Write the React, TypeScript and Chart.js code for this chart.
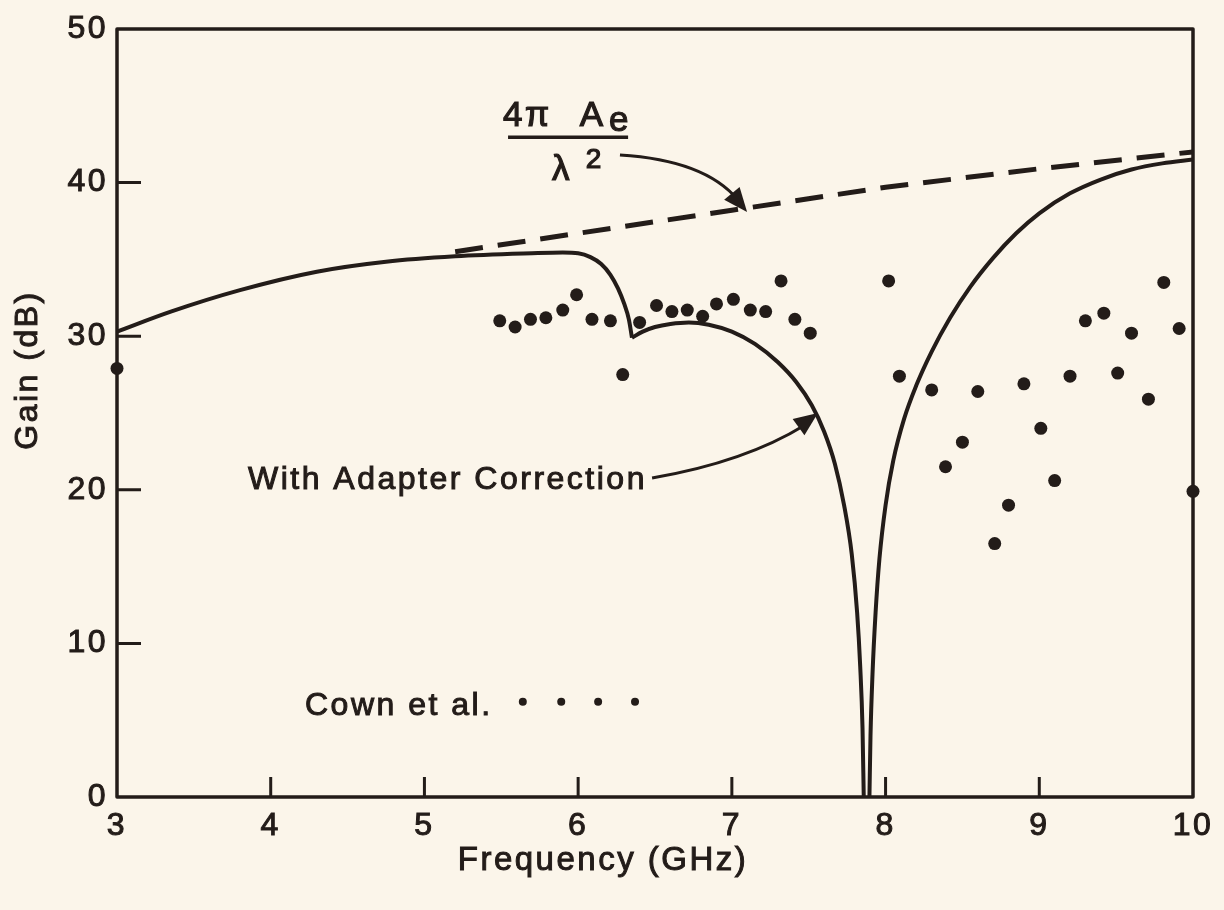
import React, { useEffect, useRef } from 'react';
import { Chart, registerables } from 'chart.js';

Chart.register(...registerables);

const INK = '#231c19';
const PAPER = '#fbf5ea';
const FONT = '"Liberation Sans", Arial, Helvetica, sans-serif';

// Axis ticks
const xTicks = [3, 4, 5, 6, 7, 8, 9, 10];
const yTicks = [0, 10, 20, 30, 40, 50];

// 4*pi*Ae / lambda^2 (dashed)
const apertureX = [5.2, 6.0, 7.0, 8.0, 9.0, 10.0];
const apertureY = [35.5, 36.7, 38.2, 39.7, 40.9, 42.0];

// With adapter correction (solid) - rising part up to cusp
const riseX = [3.0, 3.35, 3.8, 4.3, 4.75, 5.2, 5.7, 5.9, 6.0, 6.08, 6.15, 6.21, 6.26, 6.3, 6.33, 6.35];
const riseY = [30.3, 31.6, 33.0, 34.2, 34.85, 35.2, 35.4, 35.45, 35.4, 35.15, 34.7, 34.0, 33.1, 32.1, 31.1, 29.9];

// hump after the cusp, falling into the null
const humpX = [6.35, 6.42, 6.5, 6.6, 6.72, 6.85, 7.0, 7.15, 7.3, 7.42, 7.52, 7.6, 7.67, 7.73, 7.78, 7.815, 7.835, 7.85, 7.858];
const humpY = [29.9, 30.3, 30.6, 30.8, 30.9, 30.75, 30.3, 29.5, 28.3, 27.0, 25.5, 23.8, 21.7, 19.0, 15.8, 12.0, 8.5, 4.5, 0];

// rising branch after the null
const recoverX = [7.895, 7.902, 7.915, 7.935, 7.96, 8.0, 8.05, 8.12, 8.2, 8.3, 8.42, 8.55, 8.7, 8.85, 9.0, 9.2, 9.4, 9.6, 9.8, 10.0];
const recoverY = [0, 4, 8, 12, 15.5, 19.0, 21.9, 24.6, 26.8, 29.0, 31.2, 33.2, 35.1, 36.7, 38.0, 39.3, 40.2, 40.85, 41.25, 41.5];

// Cown et al. measured points
const cownX = [3.0, 5.49, 5.59, 5.69, 5.79, 5.9, 5.99, 6.09, 6.21, 6.29, 6.4, 6.51, 6.61, 6.71, 6.81, 6.9, 7.01, 7.12, 7.22, 7.32, 7.41, 7.51,
  8.02, 8.09, 8.3, 8.39, 8.5, 8.6, 8.71, 8.8, 8.9, 9.01, 9.1, 9.2, 9.3, 9.42, 9.51, 9.6, 9.71, 9.81, 9.91, 10.0];
const cownY = [27.9, 31.0, 30.6, 31.1, 31.2, 31.7, 32.7, 31.1, 31.0, 27.5, 30.9, 32.0, 31.6, 31.7, 31.3, 32.1, 32.4, 31.7, 31.6, 33.6, 31.1, 30.2,
  33.6, 27.4, 26.5, 21.5, 23.1, 26.4, 16.5, 19.0, 26.9, 24.0, 20.6, 27.4, 31.0, 31.5, 27.6, 30.2, 25.9, 33.5, 30.5, 19.9];

// legend key dots
const keyX = [5.64, 5.89, 6.13, 6.37];
const keyY = [6.2, 6.2, 6.2, 6.2];

const xy = (xs: number[], ys: number[]) => xs.map((x, i) => ({ x, y: ys[i] }));

function arrowHead(ctx: CanvasRenderingContext2D, tx: number, ty: number, fx: number, fy: number, len: number, half: number) {
  const a = Math.atan2(ty - fy, tx - fx);
  const bx = tx - len * Math.cos(a);
  const by = ty - len * Math.sin(a);
  ctx.beginPath();
  ctx.moveTo(tx, ty);
  ctx.lineTo(bx + half * Math.sin(a), by - half * Math.cos(a));
  ctx.lineTo(bx - half * Math.sin(a), by + half * Math.cos(a));
  ctx.closePath();
  ctx.fill();
}

function inkText(ctx: CanvasRenderingContext2D, s: string, x: number, y: number) {
  ctx.fillText(s, x, y);
  ctx.strokeText(s, x, y);
}

const paperPlugin = {
  id: 'paper',
  beforeDraw(chart: any) {
    const { ctx, width, height } = chart;
    ctx.save();
    ctx.fillStyle = PAPER;
    ctx.fillRect(0, 0, width, height);
    ctx.restore();
    ctx.letterSpacing = '2.5px';
  },
  beforeDatasetsDraw(chart: any) {
    const { ctx, chartArea: a, scales } = chart;
    const xs = scales.x;
    const ys = scales.y;
    ctx.save();
    ctx.strokeStyle = INK;
    ctx.lineWidth = 3.5;
    ctx.lineJoin = 'round';
    ctx.strokeRect(a.left, a.top, a.right - a.left, a.bottom - a.top);
    ctx.lineWidth = 3;
    ctx.beginPath();
    xTicks.slice(1, -1).forEach((v) => {
      const p = xs.getPixelForValue(v);
      ctx.moveTo(p, a.bottom);
      ctx.lineTo(p, a.bottom - 20);
    });
    yTicks.slice(1, -1).forEach((v) => {
      const p = ys.getPixelForValue(v);
      ctx.moveTo(a.left, p);
      ctx.lineTo(a.left + 24, p);
    });
    ctx.stroke();
    ctx.restore();
  },
  afterDraw(chart: any) {
    const { ctx, scales } = chart;
    const X = (v: number) => scales.x.getPixelForValue(v);
    const Y = (v: number) => scales.y.getPixelForValue(v);
    ctx.save();
    ctx.fillStyle = INK;
    ctx.strokeStyle = INK;
    ctx.letterSpacing = '2.5px';
    ctx.textBaseline = 'alphabetic';
    ctx.textAlign = 'left';

    // fraction label
    ctx.lineWidth = 1.2;
    ctx.font = `35px ${FONT}`;
    inkText(ctx, '4\u03c0', X(5.511), Y(43.7));
    inkText(ctx, 'A', X(6.01), Y(43.7));
    inkText(ctx, 'e', X(6.2), Y(43.35));
    ctx.lineWidth = 3.5;
    ctx.beginPath();
    ctx.moveTo(X(5.544), Y(42.95));
    ctx.lineTo(X(6.325), Y(42.95));
    ctx.stroke();
    ctx.lineWidth = 1.2;
    inkText(ctx, '\u03bb', X(5.83), Y(40.17));
    ctx.font = `28px ${FONT}`;
    inkText(ctx, '2', X(6.05), Y(40.95));

    // arrow to dashed line
    ctx.lineWidth = 3;
    ctx.beginPath();
    ctx.moveTo(X(6.272), Y(41.8));
    ctx.quadraticCurveTo(X(6.825), Y(41.47), X(7.04), Y(38.87));
    ctx.stroke();
    arrowHead(ctx, X(7.099), Y(38.09), X(7.0), Y(39.3), 24, 10);

    ctx.lineWidth = 1;
    ctx.font = `32px ${FONT}`;
    inkText(ctx, 'With Adapter Correction', X(3.852), Y(20.05));
    ctx.lineWidth = 3;
    ctx.beginPath();
    ctx.moveTo(X(6.481), Y(20.77));
    ctx.quadraticCurveTo(X(7.086), Y(21.81), X(7.476), Y(24.22));
    ctx.stroke();
    arrowHead(ctx, X(7.56), Y(25.0), X(7.43), Y(24.05), 24, 10);

    ctx.lineWidth = 1;
    inkText(ctx, 'Cown et al.', X(4.223), Y(5.34));

    // axis titles
    ctx.textAlign = 'center';
    ctx.font = `33px ${FONT}`;
    inkText(ctx, 'Frequency (GHz)', X(6.162), Y(-4.75));
    ctx.font = `32px ${FONT}`;
    ctx.translate(X(2.421), Y(27.8));
    ctx.rotate(-Math.PI / 2);
    ctx.textBaseline = 'middle';
    inkText(ctx, 'Gain (dB)', 0, 0);
    ctx.restore();
  },
};

export default function App() {
  const ref = useRef<HTMLCanvasElement>(null);
  useEffect(() => {
    document.body.style.margin = '0';
    document.body.style.background = PAPER;
    const lineBase = {
      showLine: true,
      borderColor: INK,
      pointRadius: 0,
      borderWidth: 4,
      cubicInterpolationMode: 'monotone' as const,
    };
    const chart = new Chart(ref.current as HTMLCanvasElement, {
      type: 'scatter',
      data: {
        datasets: [
          {
            label: 'aperture',
            data: xy(apertureX, apertureY),
            showLine: true,
            borderColor: INK,
            borderWidth: 5,
            borderDash: [28, 15],
            pointRadius: 0,
            tension: 0,
          },
          { label: 'rise', data: xy(riseX, riseY), ...lineBase },
          { label: 'hump', data: xy(humpX, humpY), ...lineBase },
          { label: 'recover', data: xy(recoverX, recoverY), ...lineBase },
          {
            label: 'Cown et al.',
            data: xy(cownX, cownY),
            showLine: false,
            pointRadius: 6.5,
            pointBackgroundColor: INK,
            pointBorderWidth: 0,
            clip: false,
          } as any,
          {
            label: 'key',
            data: xy(keyX, keyY),
            showLine: false,
            pointRadius: 4,
            pointBackgroundColor: INK,
            pointBorderWidth: 0,
          },
        ],
      },
      options: {
        responsive: false,
        devicePixelRatio: 1,
        animation: false,
        events: [],
        layout: { padding: { top: 29, right: 31, left: 0, bottom: 0 } },
        plugins: { legend: { display: false }, tooltip: { enabled: false } },
        scales: {
          x: {
            type: 'linear',
            min: 3,
            max: 10,
            afterBuildTicks: (s: any) => {
              s.ticks = xTicks.map((v) => ({ value: v }));
            },
            afterFit: (s: any) => {
              s.height = 113;
            },
            ticks: {
              color: INK,
              font: { family: FONT, size: 32 },
              padding: 10,
              maxRotation: 0,
              autoSkip: false,
              textStrokeColor: INK,
              textStrokeWidth: 1,
            },
            grid: { display: false, drawTicks: false },
            border: { display: false },
          },
          y: {
            type: 'linear',
            min: 0,
            max: 50,
            afterBuildTicks: (s: any) => {
              s.ticks = yTicks.map((v) => ({ value: v }));
            },
            afterFit: (s: any) => {
              s.width = 117;
            },
            ticks: {
              color: INK,
              font: { family: FONT, size: 32 },
              padding: 9,
              autoSkip: false,
              textStrokeColor: INK,
              textStrokeWidth: 1,
            },
            grid: { display: false, drawTicks: false },
            border: { display: false },
          },
        },
      },
      plugins: [paperPlugin],
    });
    return () => chart.destroy();
  }, []);
  return <canvas ref={ref} width={1224} height={910} style={{ display: 'block', width: 1224, height: 910 }} />;
}
